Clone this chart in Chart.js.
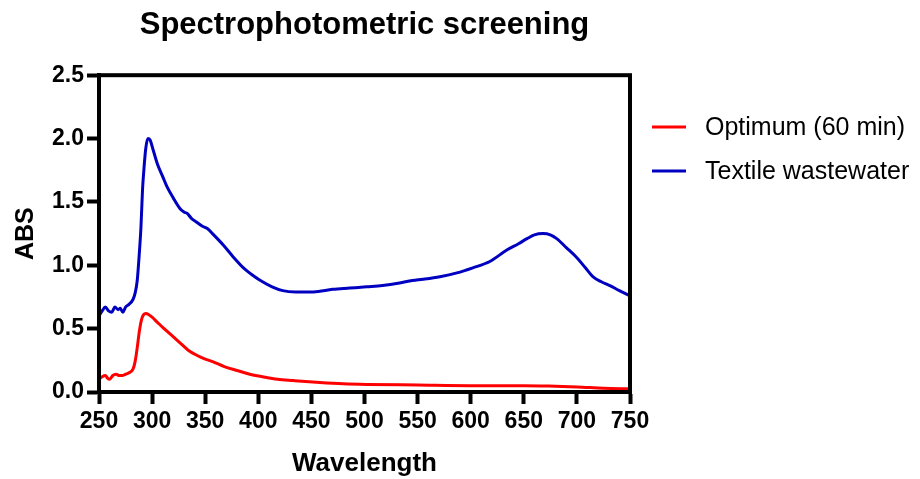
<!DOCTYPE html>
<html>
<head>
<meta charset="utf-8">
<script src="https://cdn.jsdelivr.net/npm/chart.js@4"></script>
<style>
  body { margin: 0; background: #fff; }
  #wrap { width: 920px; height: 479px; }
</style>
</head>
<body>
<div id="wrap"><canvas id="spectra" width="920" height="479"></canvas></div>
<script>
const seriesNames = ['Optimum (60 min)', 'Textile wastewater'];
const seriesColors = ['rgb(255, 0, 0)', 'rgb(0, 0, 192)'];

const optimumWl = [250, 253, 256, 258, 260, 263, 266, 269, 272, 275, 278, 282, 284, 286, 288, 290, 292, 294, 297, 300,
	305, 310, 318, 326, 334, 342, 350, 357, 368, 380, 392, 404, 418, 433, 458, 480, 502, 550, 600, 650, 680, 700, 725, 750];
const optimumAbs = [0.10, 0.12, 0.13, 0.11, 0.10, 0.13, 0.14, 0.13, 0.13, 0.14, 0.15, 0.18, 0.24, 0.35, 0.48, 0.57, 0.61, 0.62, 0.61, 0.59,
	0.55, 0.51, 0.45, 0.39, 0.33, 0.29, 0.26, 0.24, 0.20, 0.17, 0.14, 0.12, 0.10, 0.09, 0.075, 0.065, 0.06, 0.055, 0.05, 0.05, 0.045, 0.04, 0.03, 0.025];

const textileWl = [250, 253, 256, 259, 262, 265, 268, 270, 272.5, 275, 278, 282, 284, 286, 288, 289.5, 291, 292.5, 294, 296, 298,
	301, 305, 310, 314, 320, 326, 330, 333, 337, 342, 347, 352, 358, 367, 376, 386, 395, 404, 413, 423, 435, 452, 470, 486,
	502, 517, 533, 545, 555, 571, 587, 602, 618, 634, 645, 653, 660, 668, 675, 681, 690, 700, 708, 715, 723, 731, 740, 750];
const textileAbs = [0.60, 0.64, 0.67, 0.64, 0.63, 0.67, 0.65, 0.66, 0.63, 0.67, 0.69, 0.73, 0.78, 0.88, 1.10, 1.30, 1.60, 1.78, 1.92, 2.00, 1.99,
	1.91, 1.80, 1.70, 1.62, 1.53, 1.45, 1.42, 1.41, 1.37, 1.34, 1.31, 1.29, 1.24, 1.16, 1.07, 0.98, 0.92, 0.87, 0.83, 0.80, 0.79, 0.79, 0.81, 0.82,
	0.83, 0.84, 0.86, 0.88, 0.89, 0.91, 0.94, 0.98, 1.03, 1.12, 1.17, 1.21, 1.24, 1.25, 1.24, 1.21, 1.14, 1.06, 0.98, 0.91, 0.87, 0.84, 0.80, 0.76];

const xTicks = [250, 300, 350, 400, 450, 500, 550, 600, 650, 700, 750];
const yTicks = [0, 0.5, 1.0, 1.5, 2.0, 2.5];

function toPoints(xs, ys) {
	return xs.map((x, i) => ({x: x, y: ys[i]}));
}

const FONT = '"Liberation Sans", Arial, sans-serif';

// box round the plot (top and right sides too)
const framePlugin = {
	id: 'frame',
	afterDatasetsDraw(chart) {
		const a = chart.chartArea;
		const c = chart.ctx;
		c.save();
		c.strokeStyle = '#000';
		c.lineWidth = 4;
		c.strokeRect(a.left, a.top, a.right - a.left, a.bottom - a.top);
		c.restore();
	}
};

// legend on the right, drawn by hand
const sideLegend = {
	id: 'sideLegend',
	afterDraw(chart) {
		const c = chart.ctx;
		c.save();
		chart.data.datasets.forEach((ds, i) => {
			const y = 127 + i * 44;
			c.strokeStyle = ds.borderColor;
			c.lineWidth = 3;
			c.beginPath();
			c.moveTo(652, y);
			c.lineTo(686, y);
			c.stroke();
			c.fillStyle = '#000';
			c.font = '25px ' + FONT;
			c.textBaseline = 'middle';
			c.fillText(ds.label, 705, y + 1);
		});
		c.restore();
	}
};

const ctx = document.getElementById('spectra').getContext('2d');

const spectra = new Chart(ctx, {
	type: 'line',
	data: {
		datasets: [{
			label: seriesNames[0],
			data: toPoints(optimumWl, optimumAbs),
			borderColor: seriesColors[0],
			borderWidth: 3,
			pointRadius: 0,
			cubicInterpolationMode: 'monotone'
		}, {
			label: seriesNames[1],
			data: toPoints(textileWl, textileAbs),
			borderColor: seriesColors[1],
			borderWidth: 3,
			pointRadius: 0,
			cubicInterpolationMode: 'monotone'
		}]
	},
	options: {
		responsive: false,
		animation: false,
		layout: {padding: {left: 0, right: 290, top: 0, bottom: 0}},
		plugins: {
			legend: {display: false},
			tooltip: {enabled: false},
			title: {
				display: true,
				fullSize: false,
				text: 'Spectrophotometric screening',
				color: '#000',
				font: {family: FONT, size: 31, weight: 'bold'},
				padding: {top: 7, bottom: 31}
			}
		},
		scales: {
			x: {
				type: 'linear',
				min: 250,
				max: 750,
				afterBuildTicks: (s) => { s.ticks = xTicks.map(v => ({value: v})); },
				afterFit: (s) => { s.height = 87; },
				border: {display: true, color: '#000', width: 4},
				grid: {drawOnChartArea: false, drawTicks: true, tickLength: 12, tickWidth: 4, tickColor: '#000'},
				ticks: {color: '#000', padding: 4, maxRotation: 0, font: {family: FONT, size: 23, weight: 'bold'}},
				title: {
					display: true,
					text: 'Wavelength',
					color: '#000',
					font: {family: FONT, size: 26, weight: 'bold'},
					padding: {top: 0, bottom: 0}
				}
			},
			y: {
				min: 0,
				max: 2.5,
				afterBuildTicks: (s) => { s.ticks = yTicks.map(v => ({value: v})); },
				afterFit: (s) => { s.width = 99; },
				border: {display: true, color: '#000', width: 4},
				grid: {drawOnChartArea: false, drawTicks: true, tickLength: 12, tickWidth: 4, tickColor: '#000'},
				ticks: {color: '#000', padding: 3, callback: (v) => v.toFixed(1), font: {family: FONT, size: 23, weight: 'bold'}},
				title: {
					display: true,
					text: 'ABS',
					color: '#000',
					font: {family: FONT, size: 25, weight: 'bold'},
					padding: {top: 11, bottom: 0}
				}
			}
		}
	},
	plugins: [framePlugin, sideLegend]
});
</script>
</body>
</html>
